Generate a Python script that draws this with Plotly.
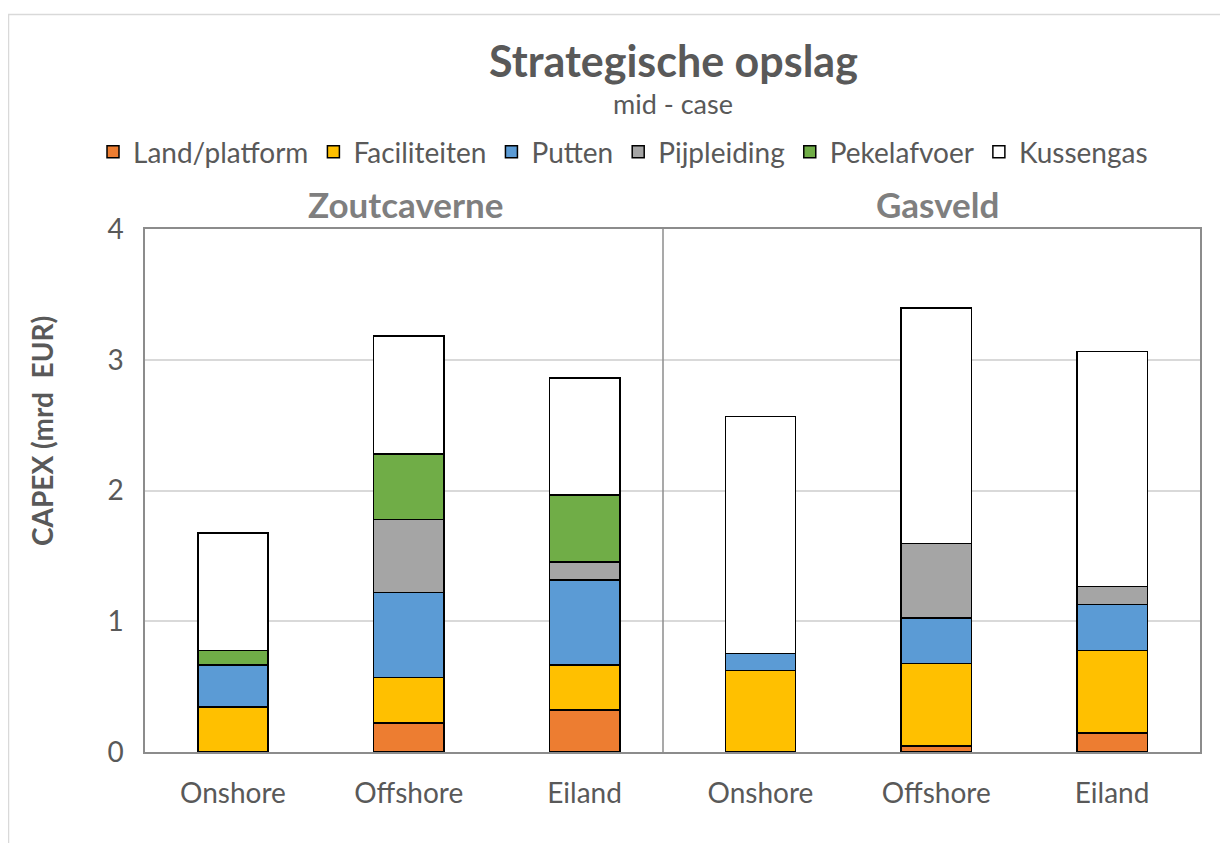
import plotly.graph_objects as go

groups = ["Zoutcaverne", "Gasveld"]
sites = ["Onshore", "Offshore", "Eiland", "Onshore", "Offshore", "Eiland"]
positions = [0, 1, 2, 3, 4, 5]

series_names = ["Land/platform", "Faciliteiten", "Putten", "Pijpleiding", "Pekelafvoer", "Kussengas"]
land_platform = [0.0, 0.22, 0.32, 0.005, 0.045, 0.145]
faciliteiten = [0.345, 0.35, 0.345, 0.62, 0.63, 0.63]
putten = [0.32, 0.65, 0.65, 0.13, 0.35, 0.355]
pijpleiding = [0.0, 0.56, 0.14, 0.0, 0.57, 0.135]
pekelafvoer = [0.11, 0.50, 0.51, 0.0, 0.0, 0.0]
kussengas = [0.90, 0.90, 0.895, 1.81, 1.80, 1.80]
series_values = [land_platform, faciliteiten, putten, pijpleiding, pekelafvoer, kussengas]
colors = ["#ED7D31", "#FFC000", "#5B9BD5", "#A5A5A5", "#70AD47", "#FFFFFF"]

y_ticks = [0, 1, 2, 3, 4]

FONT = "Lato"
TXT = "#595959"

fig = go.Figure()
for name, vals, col in zip(series_names, series_values, colors):
    fig.add_trace(go.Bar(
        x=positions, y=vals, name=name, width=0.4,
        marker=dict(color=col, line=dict(color="#000000", width=1.5)),
    ))

OFF = 8  # page body margin
W, H = 1228, 843
L, R, T, B = 145 - OFF, 36, 229 - OFF, 843 - (752 - OFF)
pw, ph = W - L - R, H - T - B

def px(x):
    return (x - OFF - L) / pw

def py(y):
    return (H - B - (y - OFF)) / ph

annotations = [
    dict(text="<b>Strategische opslag</b>", x=px(673), y=py(61), font=dict(size=43, color=TXT, family=FONT)),
    dict(text="mid - case", x=px(673), y=py(104), font=dict(size=27, color=TXT, family=FONT)),
    dict(text="<b>" + groups[0] + "</b>", x=px(405), y=py(204), font=dict(size=35, color="#7F7F7F", family=FONT)),
    dict(text="<b>" + groups[1] + "</b>", x=px(937), y=py(204), font=dict(size=35, color="#7F7F7F", family=FONT)),
    dict(text="<b>CAPEX (mrd  EUR)</b>", x=px(42), y=py(431), textangle=-90, font=dict(size=28, color=TXT, family=FONT)),
]
for a in annotations:
    a.update(xref="paper", yref="paper", showarrow=False, xanchor="center", yanchor="middle")

shapes = [
    dict(type="line", xref="paper", yref="paper", x0=px(663), x1=px(663), y0=0, y1=1,
         line=dict(color="#8C8C8C", width=1.5)),
    dict(type="rect", xref="paper", yref="paper", x0=px(8.5), x1=px(1250), y0=py(14.5), y1=py(870),
         line=dict(color="#D9D9D9", width=1.5), layer="below"),
]

fig.update_layout(
    width=W, height=H,
    margin=dict(l=L, r=R, t=T, b=B),
    paper_bgcolor="white", plot_bgcolor="white",
    barmode="stack", bargap=0.6,
    font=dict(family=FONT, color=TXT),
    annotations=annotations, shapes=shapes,
    legend=dict(orientation="h", xref="container", yref="container",
                x=(623 - OFF) / W, xanchor="center", y=(H - (152 - OFF)) / H, yanchor="middle",
                font=dict(size=28, color=TXT, family=FONT), traceorder="normal",
                itemwidth=30, bgcolor="rgba(0,0,0,0)"),
    showlegend=True,
)
fig.update_xaxes(
    range=[-0.5, 5.5], tickmode="array", tickvals=positions, ticktext=sites,
    tickfont=dict(size=28, color=TXT, family=FONT), ticklabelstandoff=16,
    showgrid=False, showline=True, linecolor="#8C8C8C", linewidth=1.5, mirror=True,
    zeroline=False, fixedrange=True,
)
fig.update_yaxes(
    range=[0, 4], tickmode="array", tickvals=y_ticks,
    tickfont=dict(size=28, color=TXT, family=FONT), ticklabelstandoff=14,
    showgrid=True, gridcolor="#D9D9D9", gridwidth=1.5,
    showline=True, linecolor="#8C8C8C", linewidth=1.5, mirror=True,
    zeroline=False, fixedrange=True,
)

fig.write_html("out.html")
